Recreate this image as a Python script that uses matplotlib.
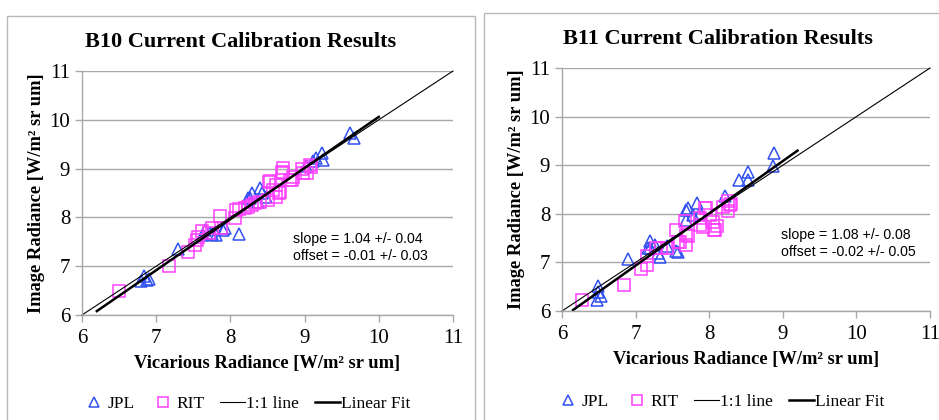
import matplotlib
matplotlib.use("Agg")
import matplotlib.pyplot as plt
from matplotlib.patches import Rectangle
from matplotlib.lines import Line2D

plt.rcParams.update({"font.family": "Liberation Serif", "font.size": 13})

# ---- data ----
b10_jpl_x = [6.80, 6.84, 6.87, 6.90, 7.30, 7.63, 7.66, 7.72, 7.75, 7.81, 7.90, 7.93, 8.11,
             8.24, 8.26, 8.29, 8.37, 8.40, 8.42, 8.48, 9.02, 9.11, 9.16, 9.23, 9.25, 9.61, 9.67]
b10_jpl_y = [6.69, 6.79, 6.72, 6.74, 7.35, 7.64, 7.74, 7.68, 7.67, 7.64, 7.74, 7.78, 7.67,
             8.40, 8.39, 8.49, 8.32, 8.60, 8.49, 8.42, 9.05, 9.15, 9.21, 9.31, 9.18, 9.72, 9.62]
b10_rit_x = [6.50, 7.17, 7.43, 7.52, 7.55, 7.57, 7.62, 7.71, 7.75, 7.86, 7.88, 8.06, 8.08,
             8.12, 8.20, 8.24, 8.29, 8.33, 8.40, 8.51, 8.52, 8.53, 8.57, 8.62, 8.62, 8.66,
             8.67, 8.69, 8.71, 8.71, 8.80, 8.83, 8.84, 8.96, 8.98, 9.03, 9.07, 9.09]
b10_rit_y = [6.50, 7.01, 7.29, 7.43, 7.53, 7.60, 7.73, 7.68, 7.78, 8.03, 7.78, 7.98, 8.15,
             8.17, 8.19, 8.21, 8.25, 8.30, 8.32, 8.36, 8.73, 8.75, 8.56, 8.42, 8.66, 8.51,
             8.53, 8.94, 9.02, 8.90, 8.77, 8.77, 8.83, 9.00, 8.90, 8.92, 9.07, 9.04]
b10_fit_x = [6.20, 10.00]
b10_fit_y = [6.08, 10.06]

b11_jpl_x = [6.47, 6.49, 6.49, 6.53, 6.90, 7.17, 7.19, 7.19, 7.26, 7.31, 7.33, 7.42, 7.55,
             7.58, 7.68, 7.69, 7.71, 7.78, 7.84, 7.87, 8.21, 8.41, 8.53, 8.53, 8.87, 8.88]
b11_jpl_y = [6.23, 6.52, 6.40, 6.30, 7.07, 7.29, 7.45, 7.30, 7.36, 7.19, 7.12, 7.33, 7.23,
             7.22, 7.88, 8.08, 8.12, 7.98, 8.22, 8.02, 8.36, 8.70, 8.85, 8.70, 8.98, 9.25]
b11_rit_x = [6.27, 6.84, 7.07, 7.15, 7.16, 7.28, 7.35, 7.42, 7.55, 7.58, 7.60, 7.67, 7.69,
             7.69, 7.71, 7.87, 7.88, 7.92, 7.94, 7.96, 8.01, 8.05, 8.06, 8.08, 8.10, 8.19,
             8.26, 8.26, 8.28, 8.30]
b11_rit_y = [6.23, 6.54, 6.86, 7.14, 6.95, 7.30, 7.30, 7.29, 7.67, 7.43, 7.43, 7.85, 7.56,
             7.36, 7.54, 7.76, 7.91, 7.73, 8.11, 8.12, 7.98, 7.84, 7.67, 7.67, 7.74, 8.15,
             8.26, 8.05, 8.19, 8.21]
b11_fit_x = [6.15, 9.20]
b11_fit_y = [6.02, 9.30]

one_to_one = [6, 11]
ticks = [6, 7, 8, 9, 10, 11]

panels = [
    ("B10 Current Calibration Results", b10_jpl_x, b10_jpl_y, b10_rit_x, b10_rit_y,
     b10_fit_x, b10_fit_y, "slope = 1.04 +/- 0.04\noffset = -0.01 +/- 0.03"),
    ("B11 Current Calibration Results", b11_jpl_x, b11_jpl_y, b11_rit_x, b11_rit_y,
     b11_fit_x, b11_fit_y, "slope = 1.08 +/- 0.08\noffset = -0.02 +/- 0.05"),
]

JPL_C = "#3050f0"
RIT_C = "#ff40ff"
GRID_C = "#a8a8a8"

W, H = 939, 420
fig = plt.figure(figsize=(W / 100, H / 100), dpi=100)

# panel frames (px: left, top, right)
for (l, t, r) in [(7, 16, 475), (484, 13, 945)]:
    fig.add_artist(Rectangle((l / W, -0.05), (r - l) / W, 1 - t / H + 0.05,
                             transform=fig.transFigure, fill=False,
                             ec="#b8b8b8", lw=1.0))

# axes boxes in px: left, top, right, bottom
boxes = [(82, 71, 453, 315), (562, 68, 930, 311)]
title_y = [42, 39]
title_x = [241, 718]
note_x = [8.85, 8.98]
legend_x = [246, 720]
legend_y = [404, 402]

for (title, jx, jy, rx, ry, fx, fy, note), (l, t, r, b), tx, ty, nx, lx, ly in zip(
        panels, boxes, title_x, title_y, note_x, legend_x, legend_y):
    ax = fig.add_axes([l / W, 1 - b / H, (r - l) / W, (b - t) / H])
    ax.set_xlim(6, 11)
    ax.set_ylim(6, 11)
    ax.set_xticks(ticks)
    ax.set_yticks(ticks)
    ax.grid(axis="y", color=GRID_C, lw=1.0)
    ax.set_axisbelow(True)
    for s in ["top", "right"]:
        ax.spines[s].set_visible(False)
    for s in ["left", "bottom"]:
        ax.spines[s].set_color(GRID_C)
        ax.spines[s].set_linewidth(1.0)
    ax.tick_params(colors=GRID_C, labelcolor="black", length=5, width=1.0,
                   labelsize=15)
    ax.tick_params(axis="x", pad=5)

    ax.plot(jx, jy, ls="none", marker="^", ms=9, mfc="none", mec=JPL_C, mew=1.1,
            clip_on=False)
    ax.plot(rx, ry, ls="none", marker="s", ms=8, mfc="none", mec=RIT_C, mew=1.1,
            clip_on=False)
    ax.plot(one_to_one, one_to_one, color="black", lw=0.8, clip_on=False)
    ax.plot(fx, fy, color="black", lw=1.8)

    ax.text(nx, 7.39, note, family="Liberation Sans", fontsize=10.2,
            va="center", ha="left", linespacing=1.25)

    ax.set_xlabel("Vicarious Radiance [W/m² sr um]", fontsize=13.3, fontweight="bold",
                  labelpad=5)
    ax.set_ylabel("Image Radiance [W/m² sr um]", fontsize=13.3, fontweight="bold",
                  labelpad=3)
    fig.text(tx / W, 1 - ty / H, title, ha="center", va="center", fontsize=16,
             fontweight="bold")

    handles = [
        Line2D([], [], ls="none", marker="^", ms=7, mfc="none", mec=JPL_C, mew=1.1),
        Line2D([], [], ls="none", marker="s", ms=7, mfc="none", mec=RIT_C, mew=1.1),
        Line2D([], [], color="black", lw=0.8),
        Line2D([], [], color="black", lw=1.8),
    ]
    fig.legend(handles, ["JPL", "RIT", "1:1 line", "Linear Fit"],
               loc="center", bbox_to_anchor=(lx / W, 1 - ly / H), ncol=4,
               frameon=False, fontsize=12.5, handlelength=1.45, handletextpad=0.05,
               columnspacing=0.9)

fig.savefig("out.png", dpi=100)
